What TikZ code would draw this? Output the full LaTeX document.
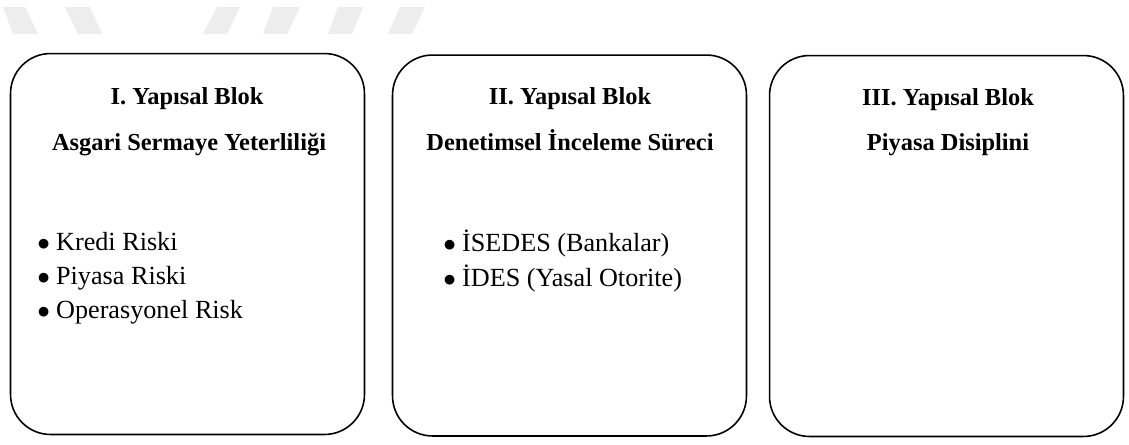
\documentclass[tikz,border=0pt]{standalone}
\usepackage{fontspec}
\setmainfont{Liberation Serif}
\tikzstyle{blok} = [draw=black, line width=0.9pt, rounded corners=0.8cm, minimum width=7.08cm, minimum height=7.62cm, inner sep=0pt]
\tikzstyle{baslik} = [font=\fontsize{13.9}{16}\selectfont\bfseries, anchor=base, inner sep=0pt]
\tikzstyle{madde} = [font=\fontsize{14.9}{17}\selectfont, anchor=base west, inner sep=0pt]
\newcommand{\mimi}{$\bullet$\hspace{3.5pt}}

\begin{document}
\begin{tikzpicture}[x=0.02cm, y=-0.02cm]
      \useasboundingbox (0,0) rectangle (1129,444);
      % watermark
      \fill[black!7] (3,7) -- (25,7) -- (38,34) -- (13,34) -- cycle;
      \fill[black!7] (65,7) -- (90,7) -- (102,34) -- (78,34) -- cycle;
      \fill[black!7] (217,7) -- (240,7) -- (227,34) -- (203,34) -- cycle;
      \fill[black!7] (273,7) -- (300,7) -- (287,34) -- (263,34) -- cycle;
      \fill[black!7] (338,7) -- (363,7) -- (352,34) -- (328,34) -- cycle;
      \fill[black!7] (400,7) -- (425,7) -- (412,34) -- (388,34) -- cycle;
      % blocks
      \node[blok] (b1) at (187.5,244) {};
      \node[blok] (b2) at (569.5,245.5) {};
      \node[blok] (b3) at (946.5,246) {};
      \node[baslik] (b1a) at (187,104) {I. Yapısal Blok};
      \node[baslik] (b1b) at (189,150) {Asgari Sermaye Yeterliliği};
      \node[baslik] (b2a) at (570,104) {II. Yapısal Blok};
      \node[baslik] (b2b) at (570,150) {Denetimsel İnceleme Süreci};
      \node[baslik] (b3a) at (948,105) {III. Yapısal Blok};
      \node[baslik] (b3b) at (948,150) {Piyasa Disiplini};
      \node[madde] (k1) at (37,250) {\mimi Kredi Riski};
      \node[madde] (k2) at (37,284) {\mimi Piyasa Riski};
      \node[madde] (k3) at (37,318) {\mimi Operasyonel Risk};
      \node[madde] (d1) at (443,251) {\mimi İSEDES (Bankalar)};
      \node[madde] (d2) at (443,286) {\mimi İDES (Yasal Otorite)};
    \end{tikzpicture}
\end{document}
